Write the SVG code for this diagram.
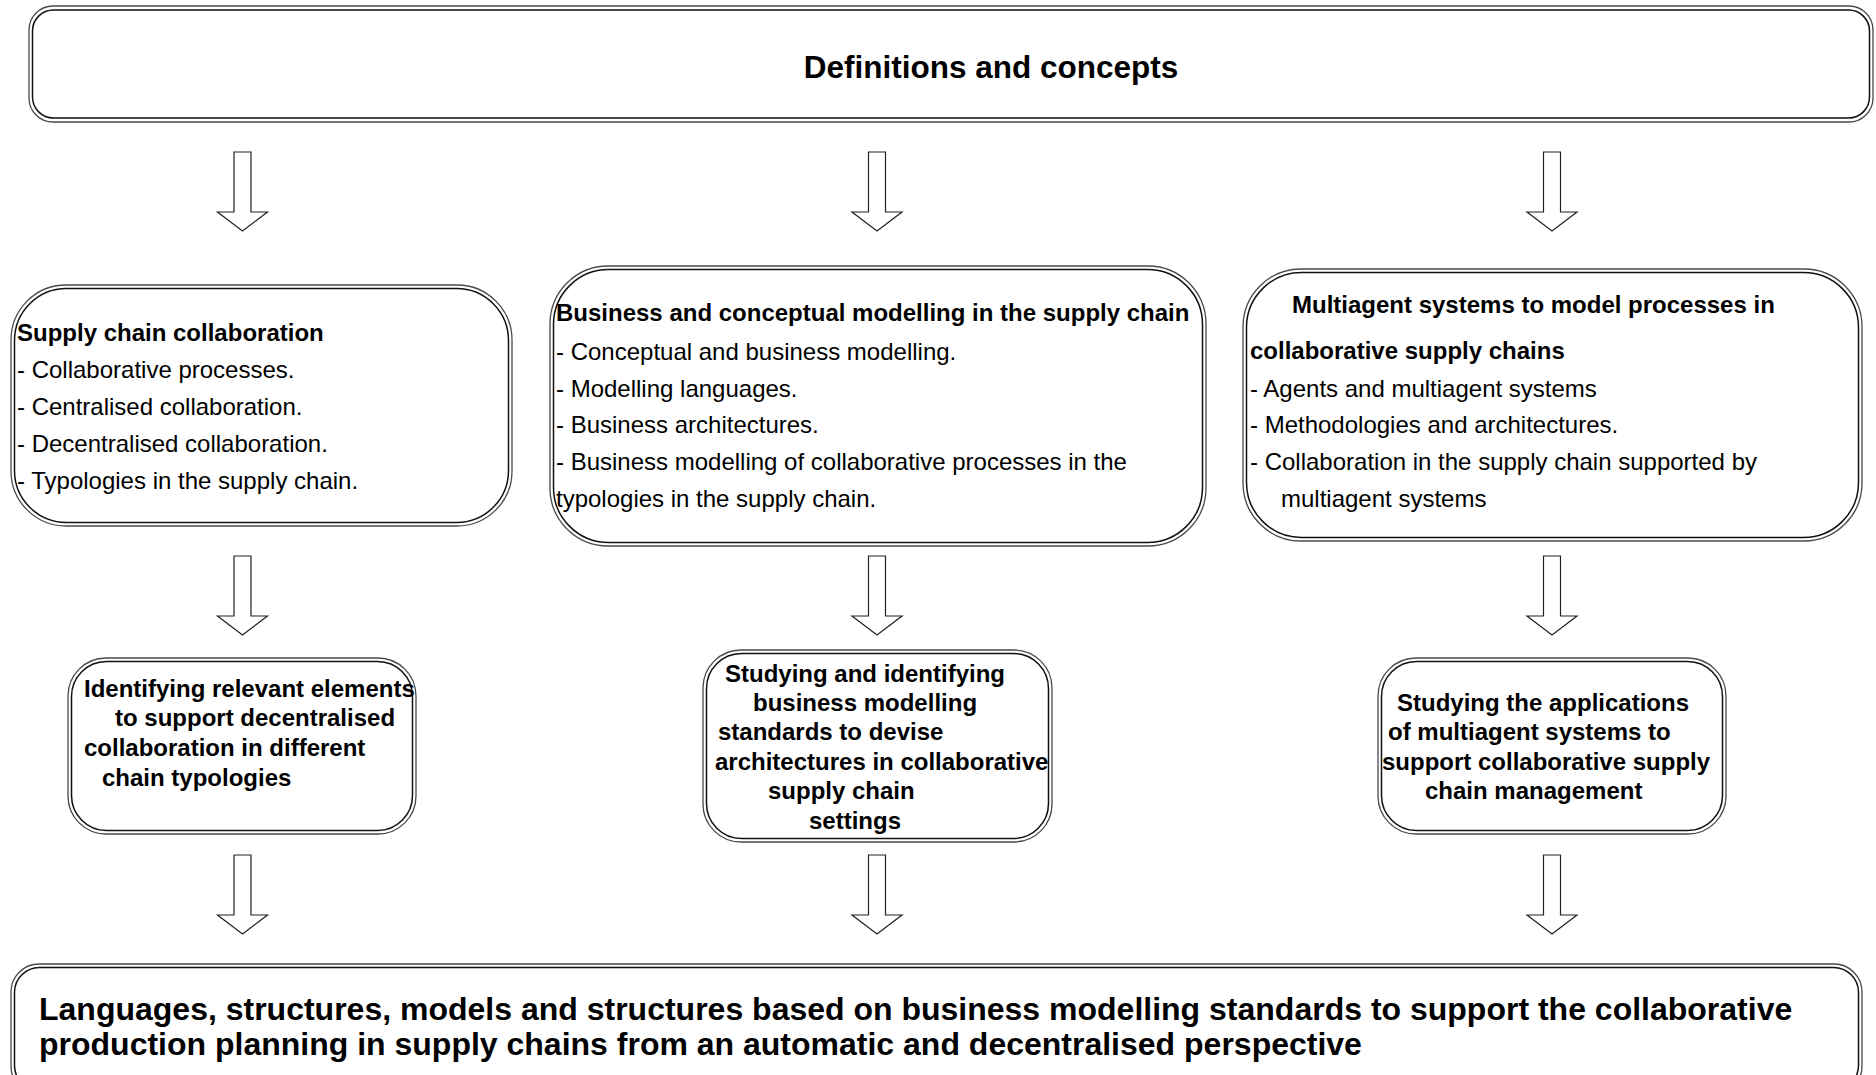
<svg xmlns="http://www.w3.org/2000/svg" width="1876" height="1075" viewBox="0 0 1876 1075">
  <style>
    .outer { fill: #ffffff; stroke: #4a4a4a; stroke-width: 1.3; }
    .inner { fill: none; stroke: #111111; stroke-width: 1.5; }
    .arrow { fill: #ffffff; stroke: #222222; stroke-width: 1.2; stroke-linejoin: miter; }
    text { font-family: "Liberation Sans", Arial, Helvetica, sans-serif; fill: #000000; }
    .b { font-weight: bold; font-size: 24px; }
    .r { font-size: 24px; }
    .head { font-weight: bold; font-size: 31.5px; }
    .foot { font-weight: bold; font-size: 32px; }
  </style>
  <rect width="1876" height="1075" fill="#ffffff"/>

  <!-- top heading -->
  <g id="definitions">
    <rect class="outer" x="29" y="6" width="1844" height="116" rx="24"/>
    <rect class="inner" x="32.5" y="10" width="1837" height="108" rx="21"/>
    <text class="head" x="991" y="78" text-anchor="middle">Definitions and concepts</text>
  </g>

  <!-- research areas -->
  <g id="supply-chain-collaboration">
    <rect class="outer" x="11" y="285" width="501" height="241" rx="55"/>
    <rect class="inner" x="14.5" y="288.5" width="494" height="234" rx="52"/>
    <text class="b" x="17" y="341">Supply chain collaboration</text>
    <text class="r" x="17" y="378">- Collaborative processes.</text>
    <text class="r" x="17" y="415">- Centralised collaboration.</text>
    <text class="r" x="17" y="452">- Decentralised collaboration.</text>
    <text class="r" x="17" y="489">- Typologies in the supply chain.</text>
  </g>

  <g id="business-modelling">
    <rect class="outer" x="550" y="266" width="656" height="280" rx="58"/>
    <rect class="inner" x="553.5" y="269.5" width="649" height="273" rx="55"/>
    <text class="b" x="556" y="321">Business and conceptual modelling in the supply chain</text>
    <text class="r" x="556" y="360">- Conceptual and business modelling.</text>
    <text class="r" x="556" y="397">- Modelling languages.</text>
    <text class="r" x="556" y="433">- Business architectures.</text>
    <text class="r" x="556" y="470">- Business modelling of collaborative processes in the</text>
    <text class="r" x="556" y="507">typologies in the supply chain.</text>
  </g>

  <g id="multiagent-systems">
    <rect class="outer" x="1243" y="269" width="619" height="272" rx="58"/>
    <rect class="inner" x="1246.5" y="272.5" width="612" height="265" rx="55"/>
    <text class="b" x="1292" y="313">Multiagent systems to model processes in</text>
    <text class="b" x="1250" y="359">collaborative supply chains</text>
    <text class="r" x="1250" y="397">- Agents and multiagent systems</text>
    <text class="r" x="1250" y="433">- Methodologies and architectures.</text>
    <text class="r" x="1250" y="470">- Collaboration in the supply chain supported by</text>
    <text class="r" x="1281" y="507">multiagent systems</text>
  </g>

  <!-- objectives -->
  <g id="decentralised-elements">
    <rect class="outer" x="68" y="658" width="348" height="176" rx="38"/>
    <rect class="inner" x="71.5" y="661.5" width="341" height="169" rx="35"/>
    <text class="b" x="84" y="697">Identifying relevant elements</text>
    <text class="b" x="115" y="726">to support decentralised</text>
    <text class="b" x="84" y="756">collaboration in different</text>
    <text class="b" x="102" y="786">chain typologies</text>
  </g>

  <g id="modelling-standards">
    <rect class="outer" x="703" y="650" width="349" height="192" rx="38"/>
    <rect class="inner" x="706.5" y="653.5" width="342" height="185" rx="35"/>
    <text class="b" x="725" y="682">Studying and identifying</text>
    <text class="b" x="753" y="711">business modelling</text>
    <text class="b" x="718" y="740">standards to devise</text>
    <text class="b" x="715" y="770">architectures in collaborative</text>
    <text class="b" x="768" y="799">supply chain</text>
    <text class="b" x="809" y="829">settings</text>
  </g>

  <g id="multiagent-applications">
    <rect class="outer" x="1378" y="658" width="348" height="176" rx="38"/>
    <rect class="inner" x="1381.5" y="661.5" width="341" height="169" rx="35"/>
    <text class="b" x="1397" y="711">Studying the applications</text>
    <text class="b" x="1388" y="740">of multiagent systems to</text>
    <text class="b" x="1382" y="770">support collaborative supply</text>
    <text class="b" x="1425" y="799">chain management</text>
  </g>

  <!-- outcome -->
  <g id="outcome">
    <rect class="outer" x="11" y="964" width="1851" height="130" rx="28"/>
    <rect class="inner" x="14.5" y="967.5" width="1844" height="123" rx="25"/>
    <text class="foot" x="39" y="1020">Languages, structures, models and structures based on business modelling standards to support the collaborative</text>
    <text class="foot" x="39" y="1055">production planning in supply chains from an automatic and decentralised perspective</text>
  </g>

  <!-- block arrows -->
  <g id="connectors">
    <polygon class="arrow" points="234,152 251,152 251,212 267.5,212 242.5,231 217.5,212 234,212"/>
    <polygon class="arrow" points="868.5,152 885.5,152 885.5,212 902,212 877,231 852,212 868.5,212"/>
    <polygon class="arrow" points="1543.5,152 1560.5,152 1560.5,212 1577,212 1552,231 1527,212 1543.5,212"/>

    <polygon class="arrow" points="234,556 251,556 251,616 267.5,616 242.5,635 217.5,616 234,616"/>
    <polygon class="arrow" points="868.5,556 885.5,556 885.5,616 902,616 877,635 852,616 868.5,616"/>
    <polygon class="arrow" points="1543.5,556 1560.5,556 1560.5,616 1577,616 1552,635 1527,616 1543.5,616"/>

    <polygon class="arrow" points="234,855 251,855 251,915 267.5,915 242.5,934 217.5,915 234,915"/>
    <polygon class="arrow" points="868.5,855 885.5,855 885.5,915 902,915 877,934 852,915 868.5,915"/>
    <polygon class="arrow" points="1543.5,855 1560.5,855 1560.5,915 1577,915 1552,934 1527,915 1543.5,915"/>
  </g>
</svg>
